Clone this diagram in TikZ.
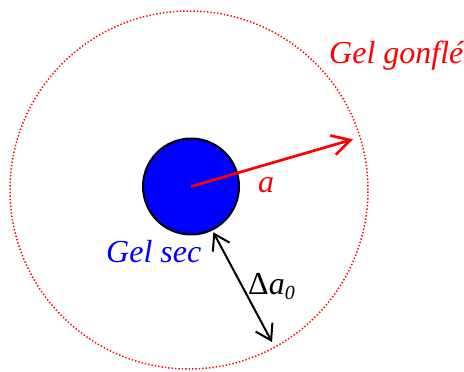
\documentclass[tikz,border=0pt]{standalone}
\usepackage{fontspec}
\setmainfont{Liberation Serif}
\usetikzlibrary{arrows.meta}
\begin{document}
\begin{tikzpicture}[x=1pt,y=1pt,
  lbl/.style={inner sep=0pt, anchor=base west, font=\fontsize{32}{36}\selectfont\itshape},
  redarrow/.style={draw=red, line width=2.7pt, -{Straight Barb[length=18pt,width=20pt]}},
  blackarrow/.style={draw=black, line width=2pt, {Straight Barb[length=15pt,width=19pt]}-{Straight Barb[length=15pt,width=19pt]}}]
\useasboundingbox (0,0) rectangle (464,372);
\node[circle, draw=red, line width=1.5pt, dash pattern=on 1.4pt off 2pt, minimum size=358pt, inner sep=0pt] (swollen) at (189,182) {};
\node[circle, draw=black, fill=blue, line width=2pt, minimum size=96pt, inner sep=0pt] (dry) at (191,185.5) {};
\coordinate (atip) at (353,232.7);
\coordinate (dstart) at (213.3,139.7);
\coordinate (dend) at (272,30);
\draw[redarrow] (dry.center) -- (atip);
\draw[blackarrow] (dstart) -- (dend);
\node[lbl, text=red] (swlabel) at (329,308) {Gel gonflé};
\node[lbl, text=red] (alabel) at (258,179) {a};
\node[lbl, text=blue] (drylabel) at (106,109) {Gel sec};
\node[lbl, text=black] (dlabel) at (248,77) {\upshape Δ\itshape a\raisebox{-5pt}{\fontsize{20}{20}\selectfont 0}};
\end{tikzpicture}
\end{document}
